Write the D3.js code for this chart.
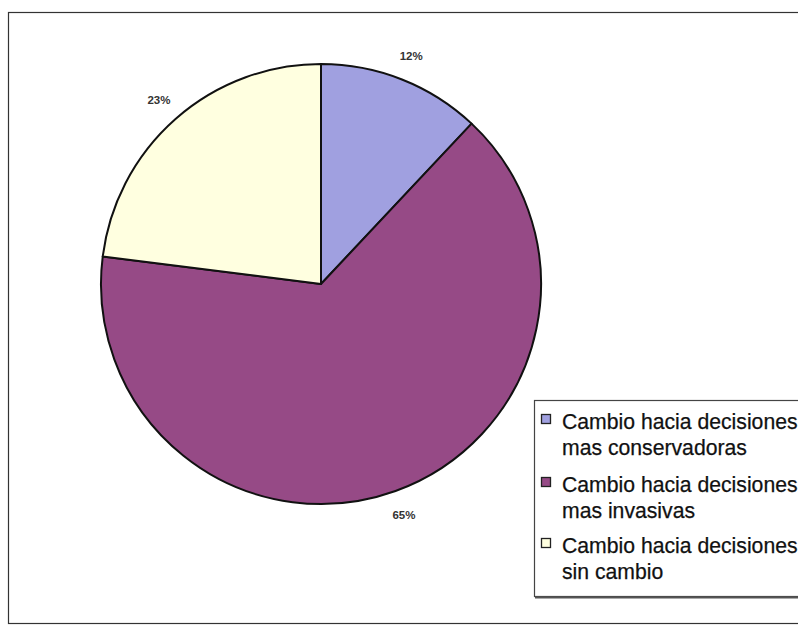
<!DOCTYPE html>
<html>
<head>
<meta charset="utf-8">
<script src="https://cdn.jsdelivr.net/npm/d3@7"></script>
<style>
  html, body { margin: 0; padding: 0; background: #fff; }
  svg { display: block; }
</style>
</head>
<body>
<svg id="chart" width="798" height="627"></svg>
<script>
// Shares of decision changes (percent)
const categories = [
  "Cambio hacia decisiones mas conservadoras",
  "Cambio hacia decisiones mas invasivas",
  "Cambio hacia decisiones sin cambio"
];
const values = [12, 65, 23];
const colors = ["#a0a0e0", "#964a86", "#ffffe0"];

const svg = d3.select("#chart");
const font = "'Liberation Sans', Arial, sans-serif";

// Outer chart frame
svg.append("rect")
  .attr("x", 8.5).attr("y", 12.5)
  .attr("width", 800).attr("height", 611)
  .attr("fill", "#fff")
  .attr("stroke", "#333").attr("stroke-width", 1.2);

const cx = 321, cy = 284, r = 220;
const g = svg.append("g").attr("transform", `translate(${cx},${cy})`);

const pie = d3.pie().sort(null).value(d => d);
const arcs = pie(values);
const arc = d3.arc().innerRadius(0).outerRadius(r);
const labelArc = d3.arc().innerRadius(245).outerRadius(245);

g.selectAll("path.slice")
  .data(arcs)
  .join("path")
  .attr("class", "slice")
  .attr("d", arc)
  .attr("fill", (d, i) => colors[i])
  .attr("stroke", "#111")
  .attr("stroke-width", 2)
  .attr("stroke-linejoin", "round");

g.selectAll("text.pct")
  .data(arcs)
  .join("text")
  .attr("class", "pct")
  .attr("transform", d => `translate(${labelArc.centroid(d)})`)
  .attr("text-anchor", "middle")
  .attr("dominant-baseline", "central")
  .attr("font-family", font)
  .attr("font-size", 11.5)
  .attr("font-weight", "bold")
  .attr("fill", "#333")
  .text(d => d.data + "%");

// Legend
const legend = svg.append("g");
legend.append("rect")
  .attr("x", 534.5).attr("y", 400.5)
  .attr("width", 280).attr("height", 196)
  .attr("fill", "#fff")
  .attr("stroke", "#444").attr("stroke-width", 1.2);
legend.append("line")
  .attr("x1", 535).attr("x2", 800)
  .attr("y1", 597.5).attr("y2", 597.5)
  .attr("stroke", "#555").attr("stroke-width", 2);

const wrap = s => {
  const w = s.split(" ");
  return [w.slice(0, 3).join(" "), w.slice(3).join(" ")];
};

const entryY = [429, 492, 553];
categories.forEach((c, i) => {
  const y0 = entryY[i];
  legend.append("rect")
    .attr("x", 541.5).attr("y", y0 - 14.5)
    .attr("width", 9).attr("height", 9)
    .attr("fill", colors[i])
    .attr("stroke", "#222").attr("stroke-width", 1.3);
  const t = legend.append("text")
    .attr("font-family", font)
    .attr("font-size", 21.2)
    .attr("fill", "#111")
    .attr("stroke", "#111")
    .attr("stroke-width", 0.25);
  wrap(c).forEach((line, j) => {
    t.append("tspan")
      .attr("x", 562)
      .attr("y", y0 + j * 26)
      .text(line);
  });
});
</script>
</body>
</html>
